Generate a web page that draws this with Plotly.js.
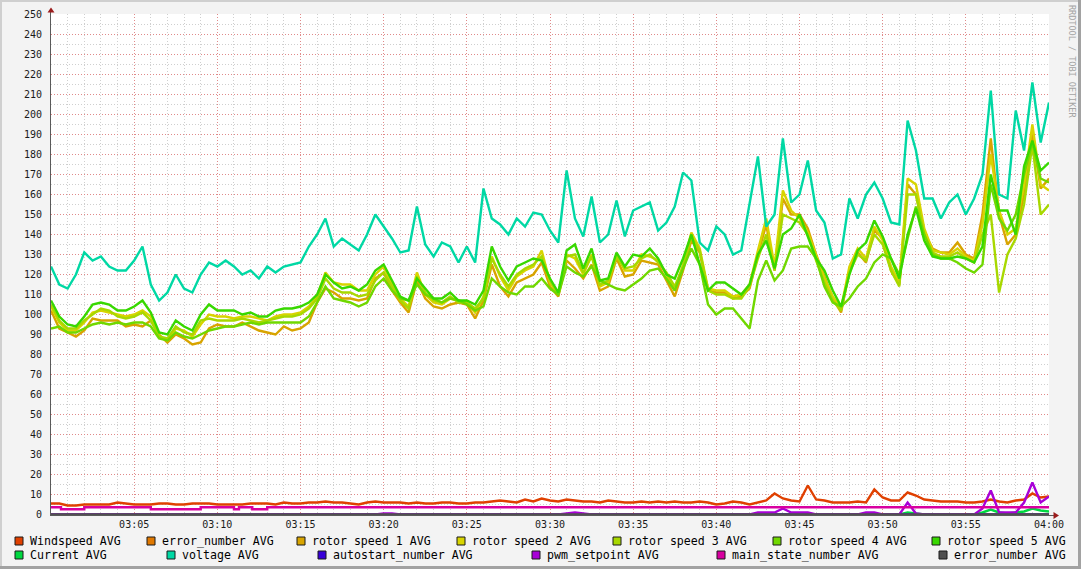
<!DOCTYPE html>
<html><head><meta charset="utf-8">
<script src="https://cdn.plot.ly/plotly-3.0.1.min.js"></script>
<style>html,body{margin:0;padding:0;background:#f3f3f3;}#chart{width:1081px;height:569px;}</style>
</head><body><div id="chart"></div>
<script>
// ---- data (sampled every 30 s from 03:00 to 04:00) ----
const windspeed = [5.5,5.5,4.5,4.5,5,5,5,5,6,5.5, 5,5,5,5.5,5.5,5,5,5.5,5.5,5.5,
  5,5,5,5,5.5,5.5,5.5,5,6,5.5, 5.5,6,6,6.5,6,6,5.5,5,6,6.5,
  6,6,6,5.5,6,5.5,5.5,6,6,5.5, 5.5,6,6,6.5,7,6.5,6,7.5,6.5,8,
  7,6.5,7.5,7,6.5,6.5,6,7,6.5,6, 6,6.5,6,6.5,6,6.5,6,6,6.5,6,
  5,5.5,6.5,6,5,6,7,10.5,8,7, 6.5,14.5,7.5,7,6,6,6,6.5,6,12.5,
  8.5,7,7,11,9.5,7.5,7,6.5,6.5,6.5, 6,6,6.5,7.5,6.5,6,7,7.5,10.5,8.5, 9];
const rotor1 = [102,93,91,89,92,98,97,97,97,94, 95,94,97,90,86,90,88,85,86,93,
  95,94,94,96,94,92,91,90,94,92, 93,96,106,113,111,108,108,107,108,118, 121,
  112,106,101,117,108,104,103,105,106, 105,98,107,125,114,109,116,118,120,126,
  114,109,127,123,118,125,112,114,128,119, 120,127,126,125,117,109,122,137,131,112, 111,
  111,108,109,113,130,145,122,158,150, 150,143,130,119,108,101,122,131,126,142,
  138,122,115,165,160,141,133,131,131,136, 130,128,150,188,150,135,140,160,190,163, 168];
const rotor2 = [104,96,92,92,96,101,102,101,100,99, 100,102,99,89,87,93,92,89,95,100,
  99,99,98,99,99,98,97,99,100,100, 101,104,109,121,116,115,115,112,112,120, 124,
  115,108,104,121,110,106,105,108,107, 106,101,109,129,119,112,119,122,124,132,
  116,110,130,128,120,130,114,116,130,122, 122,130,129,127,120,112,125,141,133,113, 112,
  112,109,110,115,132,148,124,162,152, 148,141,129,118,109,103,124,133,128,144,
  137,124,116,168,165,143,132,131,130,133, 129,127,145,180,152,140,143,165,195,165, 162];
const rotor3 = [105,97,93,93,97,100,103,102,99,98, 99,101,97,89,88,94,91,90,97,98,
  97,97,97,98,97,96,97,98,99,99, 100,103,108,118,113,111,111,109,110,117, 121,
  114,107,103,119,111,107,106,109,106, 106,103,108,128,120,114,120,123,125,129,
  117,110,129,130,121,129,115,117,129,123, 124,128,130,126,121,114,124,139,132,112, 110,
  110,108,108,114,128,140,122,150,148, 146,140,127,116,107,102,121,130,127,140,
  135,122,114,160,160,140,131,129,129,131, 128,126,140,150,111,130,138,155,185,150, 155];
const rotor4 = [93,94,91,91,93,95,96,95,96,95, 96,96,94,88,87,91,89,88,90,92,
  93,94,94,95,96,95,96,96,96,96, 96,99,106,114,108,107,106,104,106,114, 118,
  112,108,107,115,110,108,106,108,107, 105,102,104,118,114,111,110,114,114,118,
  113,110,124,121,119,124,117,115,113,112, 115,118,122,123,118,112,123,133,125,105, 100,
  103,103,98,93,117,127,117,122,133, 134,134,128,114,106,104,108,114,118,126,
  130,128,120,138,154,140,130,128,128,126, 123,121,125,165,148,142,150,170,186,168, 166];
const rotor5 = [107,99,95,94,99,105,106,105,102,102, 104,107,101,91,90,97,94,92,100,105,
  102,102,102,100,101,99,99,102,103,103, 104,106,110,120,116,113,114,112,115,122, 125,
  117,109,107,118,113,108,108,111,107, 107,105,112,134,124,117,124,126,128,127,
  118,111,132,135,123,133,117,118,131,124, 130,129,133,128,120,118,128,140,125,112, 116,
  116,113,110,115,130,137,123,140,143, 150,139,128,122,112,104,120,132,136,147,
  139,128,118,140,153,137,129,128,128,129, 128,126,134,170,152,152,140,174,187,172, 176];
const voltage = [124,115,113,120,131,127,129,124,122,122, 127,134,115,107,111,120,113,111,120,126,
  124,127,124,120,122,118,124,121,124,125, 126,134,140,148,134,138,135,132,140,150,
  144,138,131,132,154,135,129,136,134,126, 134,126,163,148,145,140,148,144,151,150,
  142,136,172,148,139,159,136,140,157,139, 152,154,156,142,146,154,171,167,136,132,
  144,140,130,132,156,179,144,150,188,156, 160,177,152,146,128,130,158,148,160,166,
  158,146,145,197,182,158,158,148,156,160, 150,158,170,212,160,158,202,182,216,186, 206];
const current = [0,0,0,0,0,0,0,0,0,0, 0,0,0,0,0,0,0,0,0,0, 0,0,0,0,0,0,0,0,0,0, 0,0,0,0,0,0,0,0,0,0,
  0,0,0,0,0,0,0,0,0,0, 0,0,0,0,0,0,0,0,0,0, 0,0,0,0,0,0,0,0,0,0, 0,0,0,0,0,0,0,0,0,0,
  0,0,0,0,0,0,0,0,0,0, 0,0,0,0,0,0,0,0,0,0,
  0,0,0,1,0.5,0,0,0,0,0, 0,0,1,2.5,1,0.5,1,1.5,3,2, 1.5];
const pwmSetpoint = [0,0,0,0,0,0,0,0,0,0, 0,0,0,0,0,0,0,0,0,0, 0,0,0,0,0,0,0,0,0,0, 0,0,0,0,0,0,0,0,0,0,
  0.5,0.5,0,0,0,0,0,0,0,0, 0,0,0,0,0,0,0,0,0,0,
  0,0,0.5,1,0.5,0,0,0,0,0, 0,0,0,0,0,0,0,0,0,0,
  0,0,0,0,0,1,1,1,3,1, 1,1,0,0,0,0,0,0,1,1,
  0,0,0,6,0.5,0,0,0,0,0, 0,0,3,12,1,1,1,6,16,6, 9];
const mainStateMin = [0,0.6,2.0,6.0,9.0,11.0,11.3,12.1,13.0,60];
const mainStateVal = [3.6,2.6,3.6,2.6,3.6,2.6,3.6,2.6,3.6,3.6];
const flatMin = [0,60];
const errorNumber = [0,0];
const autostartNumber = [0,0];
const errorNumber2 = [0,0];

const xTickLabels = ['03:05','03:10','03:15','03:20','03:25','03:30','03:35','03:40','03:45','03:50','03:55','04:00'];
const legendNames = ['Windspeed AVG','error_number AVG','rotor speed 1 AVG','rotor speed 2 AVG','rotor speed 3 AVG','rotor speed 4 AVG','rotor speed 5 AVG',
  'Current AVG','voltage AVG','autostart_number AVG','pwm_setpoint AVG','main_state_number AVG','error_number AVG'];
const colors = ['#e04000','#e07800','#d8a400','#d8d400','#a8d800','#70d800','#38d800',
  '#00d840','#00d8a4','#3800d8','#a800d8','#d800a0','#505050'];

// ---- helpers ----
function pad(n){return (n<10?'0':'')+n;}
function tstr(min){const s=Math.round(min*60);const h=3+Math.floor(s/3600);const m=Math.floor((s%3600)/60);const sec=s%60;
  return '2024-01-01 '+pad(h)+':'+pad(m)+':'+pad(sec);}
const gridT = windspeed.map((_,i)=>tstr(i*0.5));
const flatT = flatMin.map(tstr);
const msT = mainStateMin.map(tstr);
const minorX = [];
for (let m=1;m<60;m++){ if (m%5!==0) minorX.push(tstr(m)); }
const majorY = [], minorY = [];
for (let v=0; v<=250; v+=10){ majorY.push(v); if (v<250) minorY.push(v+5); }

const series = [
  [gridT, windspeed], [flatT, errorNumber], [gridT, rotor1], [gridT, rotor2], [gridT, rotor3], [gridT, rotor4], [gridT, rotor5],
  [gridT, current], [gridT, voltage], [flatT, autostartNumber], [gridT, pwmSetpoint], [msT, mainStateVal], [flatT, errorNumber2]
];
const traces = series.map((s,i)=>({
  type:'scatter', mode:'lines', x:s[0], y:s[1], name:legendNames[i],
  line:{color:colors[i], width:2.4, shape: i===11 ? 'hv' : 'linear'}, hoverinfo:'skip'
}));

// plot area: x 51..1049, y 14..515 (2 px per unit, grid rows on half pixels for crisp lines)
const W=1081,H=569,L=51,R=32,T=14,B=54,PW=W-L-R,PH=H-T-B;
const X=px=>(px-L)/PW, Y=py=>(H-B-py)/PH;
const FONT='DejaVu Sans Mono, monospace';
const MAJOR='#e08a8a', MINOR='#cfcfcf';

const shapes=[], annotations=[];
// frame
shapes.push({type:'rect',xref:'paper',yref:'paper',x0:X(0),x1:X(W),y0:Y(0),y1:Y(2),fillcolor:'#cfcfcf',line:{width:0},layer:'above'});
shapes.push({type:'rect',xref:'paper',yref:'paper',x0:X(0),x1:X(2),y0:Y(0),y1:Y(H),fillcolor:'#cfcfcf',line:{width:0},layer:'above'});
shapes.push({type:'rect',xref:'paper',yref:'paper',x0:X(W-3),x1:X(W),y0:Y(0),y1:Y(H),fillcolor:'#a2a2a2',line:{width:0},layer:'above'});
shapes.push({type:'rect',xref:'paper',yref:'paper',x0:X(0),x1:X(W),y0:Y(H-3),y1:Y(H),fillcolor:'#a2a2a2',line:{width:0},layer:'above'});
// axis extensions and arrows
shapes.push({type:'line',xref:'paper',yref:'paper',x0:X(50.5),x1:X(50.5),y0:Y(14),y1:Y(11),line:{color:'#5a5a5a',width:1},layer:'above'});
shapes.push({type:'path',xref:'paper',yref:'paper',path:`M ${X(47.5)} ${Y(12.5)} L ${X(54.5)} ${Y(12.5)} L ${X(51)} ${Y(7.5)} Z`,fillcolor:'#9b1c1c',line:{width:0},layer:'above'});
shapes.push({type:'line',xref:'paper',yref:'paper',x0:X(1049),x1:X(1054),y0:Y(515.5),y1:Y(515.5),line:{color:'#5a5a5a',width:1},layer:'above'});
shapes.push({type:'path',xref:'paper',yref:'paper',path:`M ${X(1053.5)} ${Y(512)} L ${X(1053.5)} ${Y(519)} L ${X(1059)} ${Y(515.5)} Z`,fillcolor:'#9b1c1c',line:{width:0},layer:'above'});

// custom legend
const rowBoxX=[[15,147,297,457,613,773,932],[15,167,318,532,717,939]];
const rowY=[541,555];
let k=0;
rowBoxX.forEach((row,r)=>{row.forEach(bx=>{
  const cy=rowY[r];
  shapes.push({type:'rect',xref:'paper',yref:'paper',x0:X(bx),x1:X(bx+8),y0:Y(cy-4),y1:Y(cy+4),fillcolor:colors[k],line:{color:'#1a1a1a',width:1},layer:'above'});
  annotations.push({xref:'paper',yref:'paper',x:X(bx+14),y:Y(cy),xanchor:'left',yanchor:'middle',showarrow:false,borderpad:0,
    text:legendNames[k],font:{family:FONT,size:11.6,color:'#000'}});
  k++;
});});
// watermark
annotations.push({xref:'paper',yref:'paper',x:X(1072),y:Y(61),xanchor:'center',yanchor:'middle',showarrow:false,textangle:90,
  text:'RRDTOOL / TOBI OETIKER',font:{family:FONT,size:8.5,color:'#a4a4a4'}});

const layout={
  width:W,height:H,margin:{l:L,r:R,t:T,b:B,pad:0},
  paper_bgcolor:'#f3f3f3',plot_bgcolor:'#ffffff',showlegend:false,
  font:{family:FONT,size:10,color:'#1a1a1a'},
  xaxis:{type:'date',range:[tstr(0),tstr(60)],tickmode:'array',tickvals:xTickLabels.map((_,i)=>tstr(5*(i+1))),ticktext:xTickLabels,
    showgrid:true,gridcolor:MAJOR,griddash:'1px,2px',gridwidth:1,ticks:'',showline:true,linecolor:'#5a5a5a',linewidth:1,zeroline:false,
    tickfont:{family:FONT,size:10,color:'#1a1a1a'},
    minor:{tickmode:'array',tickvals:minorX,showgrid:true,gridcolor:MINOR,griddash:'1px,2px',gridwidth:1,ticks:''},fixedrange:true},
  yaxis:{range:[-0.25,250.25],tickmode:'array',tickvals:majorY,showgrid:true,gridcolor:MAJOR,griddash:'1px,2px',gridwidth:1,ticks:'',
    showline:true,linecolor:'#5a5a5a',linewidth:1,zeroline:false,tickfont:{family:FONT,size:10,color:'#1a1a1a'},ticklabelstandoff:6,
    minor:{tickmode:'array',tickvals:minorY,showgrid:true,gridcolor:MINOR,griddash:'1px,2px',gridwidth:1,ticks:''},fixedrange:true},
  shapes:shapes,annotations:annotations
};
Plotly.newPlot('chart',traces,layout,{displayModeBar:false,staticPlot:true});
</script></body></html>
